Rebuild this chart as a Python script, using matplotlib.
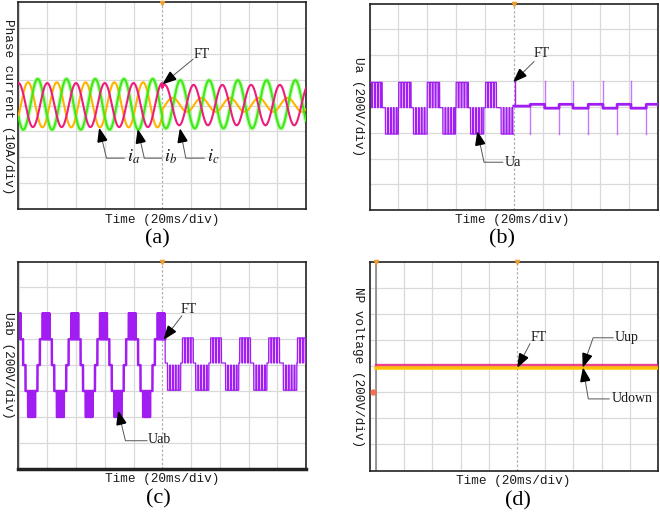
import numpy as np
import matplotlib
matplotlib.use('Agg')
import matplotlib.pyplot as plt
from matplotlib.patches import Polygon

plt.rcParams['mathtext.fontset'] = 'stix'

# ---------------- data (units: oscilloscope divisions) ----------------
FAULT_T = 5.0          # fault instant (FT), division 5 of 10
PERIOD = 1.0           # 20 ms per division -> 50 Hz -> 1 division per period

# (a) phase currents ia (yellow), ib (green), ic (pink)
cur_names = ['ia', 'ib', 'ic']
cur_amp_pre = [0.87, 0.98, 0.85]
cur_peak_pre = [0.333, 0.667, 0.0]
cur_amp_post = [0.27, 0.93, 0.78]
cur_peak_post = [0.36, 0.63, 0.09]
cur_offset = [0.03, 0.05, 0.02]

# (b) phase voltage Ua
ua_high_start = [0.00, 1.01, 2.00, 3.00, 4.02]
ua_high_end = [0.44, 1.44, 2.43, 3.42, 4.42]
ua_low_start = [0.55, 1.52, 2.54, 3.50, 4.56]
ua_low_end = [1.00, 2.00, 2.98, 3.96, 5.00]
ua_levels = [0.95, -0.03, -1.05]          # high, zero, low
ua_post_edges = [5.0, 5.57, 6.07, 6.57, 7.05, 7.58, 8.09, 8.58, 9.06, 9.59, 10.0]
ua_post_levels = [0.03, 0.10, -0.05, 0.10, -0.05, 0.10, -0.05, 0.10, -0.05, 0.10]
ua_spike_up = [5.05, 6.07, 7.05, 8.09, 9.06]
ua_spike_down = [5.57, 6.57, 7.58, 8.58, 9.59]
ua_spike_levels = [1.0, -1.05]

# (c) line voltage Uab
uab_stair_levels = [2, 1, 0, -1, -2, -1, 0, 1]
uab_stair_widths = [0.25, 0.083, 0.084, 0.083, 0.25, 0.083, 0.084, 0.083]
uab_stair_start = -0.175
uab_trace_start = 0.05
uab_switch_t = 5.1
uab_post_dn_start = [5.18, 6.16, 7.20, 8.18, 9.21]
uab_post_dn_end = [5.64, 6.62, 7.66, 8.64, 9.68]
uab_post_up_start = [5.70, 6.68, 7.69, 8.70, 9.70]
uab_post_up_end = [6.10, 7.08, 8.09, 9.10, 10.0]
uab_post_levels = [1.05, 0.08, -0.97]      # up top, base, down bottom

# (d) neutral-point voltages
np_names = ['Uup', 'Udown']
np_levels = [0.04, -0.08]
np_start = 0.0

# ---------------- style ----------------
W, H = 660, 518
PURPLE = '#A21DF2'
FILL = '#C478F5'
PINK = '#EE1C7C'
GREEN = '#3FEA14'
YELLOW = '#FFB400'
cur_colors = [YELLOW, GREEN, PINK]
MONO = 'Liberation Mono'
SERIF = 'Liberation Serif'
TXT = '#1A1A1A'
FC, DUTY, FILL_A, PWM_LW = 10, 0.78, 0.42, 0.9

fig = plt.figure(figsize=(W / 100, H / 100), dpi=100)
fig.patch.set_facecolor('white')


def add_ax(l, t, r, b, x0):
    ax = fig.add_axes([l / W, 1 - b / H, (r - l) / W, (b - t) / H])
    ax.set_xlim(x0, 10)
    ax.set_ylim(-4, 4)
    ax.set_xticks([])
    ax.set_yticks([])
    for s in ax.spines.values():
        s.set_color('#222222')
        s.set_linewidth(1.2)
    for gx in range(0, 11):
        if gx == 5:
            ax.axvline(gx, color='#B0B0B0', lw=0.9, ls=(0, (2, 1.5)), zorder=0)
        else:
            ax.axvline(gx, color='#D9D9D9', lw=0.9, zorder=0)
    for gy in range(-3, 4):
        ax.axhline(gy, color='#D9D9D9', lw=0.9, zorder=0)
    ax.plot([FAULT_T], [3.97], marker='v', ms=3, color='#F0A030', clip_on=False, zorder=5)
    return ax


def ftext(px, py, s, **kw):
    fig.text(px / W, 1 - py / H, s, ha='center', va='center', **kw)


def arrow(ax, pts, color_line='#555555'):
    xs = [p[0] for p in pts]
    ys = [p[1] for p in pts]
    ax.plot(xs, ys, color=color_line, lw=0.7, clip_on=False, zorder=9)
    tr = ax.transData
    tx, ty = tr.transform(pts[-1])
    bx, by = tr.transform(pts[-2])
    dx, dy = bx - tx, by - ty
    n = np.hypot(dx, dy)
    ux, uy = dx / n, dy / n
    px, py = -uy, ux
    L, hw = 12.0, 4.5
    cx, cy = tx + ux * L, ty + uy * L
    tri = [(tx, ty), (cx + px * hw, cy + py * hw), (cx - px * hw, cy - py * hw)]
    ax.add_patch(Polygon(tr.inverted().transform(tri), closed=True, color='black',
                         clip_on=False, zorder=10))


def pwm(t, t0, t1, level, base, fc, duty):
    inside = (t >= t0) & (t < t1)
    carrier = ((t - t0) * fc) % 1.0
    return inside, np.where(carrier < duty, level, base)


t = np.linspace(0, 10, 20001)

# ---------------- (a) ----------------
axa = add_ax(17.5, 2, 306, 209.2, -0.035)
pre = t < FAULT_T
for i in [0, 1, 2]:
    y = np.where(pre,
                 cur_amp_pre[i] * np.cos(2 * np.pi * (t - cur_peak_pre[i]) / PERIOD),
                 cur_amp_post[i] * np.cos(2 * np.pi * (t - cur_peak_post[i]) / PERIOD)) + cur_offset[i]
    if cur_names[i] == 'ib':
        axa.plot(t, y, color='#9CF58A', lw=3.2, alpha=0.6, zorder=2)
    axa.plot(t, y, color=cur_colors[i], lw=1.5, zorder=3)

arrow(axa, [(6.07, 1.79), (5.05, 0.86)])
axa.text(6.38, 1.99, 'FT', family=SERIF, fontsize=10, color=TXT, ha='center', va='center')
for lab, pts in [('$i_a$', [(3.68, -2.03), (3.06, -2.03), (2.82, -0.92)]),
                 ('$i_b$', [(4.99, -2.03), (4.375, -2.03), (4.16, -0.97)]),
                 ('$i_c$', [(6.46, -2.03), (5.82, -2.03), (5.625, -0.94)])]:
    arrow(axa, pts)
    axa.text(pts[0][0] + 0.08, -1.98, lab, fontsize=13, color='#111111', ha='left', va='center')

ftext(8.3, 107, 'Phase current (10A/div)', rotation=-90, family=MONO, fontsize=9.2, color=TXT)
ftext(162, 220, 'Time (20ms/div)', family=MONO, fontsize=9.2, color=TXT)
ftext(157.5, 239, '(a)', family=SERIF, fontsize=16, color='black')

# ---------------- (b) ----------------
axb = add_ax(369.5, 3.5, 658, 210.3, 0.0)
yb = np.full_like(t, ua_levels[1])
for s0, s1 in zip(ua_high_start, ua_high_end):
    m, v = pwm(t, s0, s1, ua_levels[0], ua_levels[1], FC, DUTY)
    yb[m] = v[m]
    axb.fill_between([s0, s1], ua_levels[1], ua_levels[0], color=FILL, alpha=FILL_A, lw=0, zorder=2)
for s0, s1 in zip(ua_low_start, ua_low_end):
    m, v = pwm(t, s0, s1, ua_levels[2], ua_levels[1], FC, DUTY)
    yb[m] = v[m]
    axb.fill_between([s0, s1], ua_levels[1], ua_levels[2], color=FILL, alpha=FILL_A, lw=0, zorder=2)
post = t >= FAULT_T
idx = np.clip(np.searchsorted(ua_post_edges, t, side='right') - 1, 0, len(ua_post_levels) - 1)
yb[post] = np.array(ua_post_levels)[idx[post]]
axb.plot(t[~post], yb[~post], color=PURPLE, lw=PWM_LW, zorder=3)
axb.plot(t[post], yb[post], color=PURPLE, lw=2.0, zorder=3)
for k, sx in enumerate(ua_spike_up):
    axb.plot([sx, sx], [0.05, ua_spike_levels[0]], color=PURPLE, lw=1.0,
             alpha=1.0 if k == 0 else 0.6, zorder=3)
for sx in ua_spike_down:
    axb.plot([sx, sx], [0.0, ua_spike_levels[1]], color=PURPLE, lw=1.0, alpha=0.6, zorder=3)

arrow(axb, [(5.70, 1.75), (5.02, 1.0)])
axb.text(5.97, 2.05, 'FT', family=SERIF, fontsize=10, color=TXT, ha='center', va='center')
arrow(axb, [(4.62, -2.14), (3.97, -2.14), (3.75, -1.0)])
axb.text(4.70, -2.14, 'Ua', family=SERIF, fontsize=10, color=TXT, ha='left', va='center')

ftext(358.3, 107, 'Ua (200V/div)', rotation=-90, family=MONO, fontsize=9.2, color=TXT)
ftext(512.5, 220, 'Time (20ms/div)', family=MONO, fontsize=9.2, color=TXT)
ftext(502, 239, '(b)', family=SERIF, fontsize=16, color='black')

# ---------------- (c) ----------------
axc = add_ax(17.5, 261.5, 306, 468.7, -0.035)
axc.spines['bottom'].set_linewidth(2.5)
edges = np.concatenate([[0.0], np.cumsum(uab_stair_widths)])
ph = (t - uab_stair_start) % PERIOD
si = np.clip(np.searchsorted(edges, ph, side='right') - 1, 0, len(uab_stair_levels) - 1)
stair = np.array(uab_stair_levels, dtype=float)[si]
carrier = (t * 30) % 1.0
yc = stair.copy()
big = np.abs(stair) == 2
yc[big] = np.where(carrier[big] < 0.7, stair[big], np.sign(stair[big]) * 1.0)
pre_c = (t >= uab_trace_start) & (t < uab_switch_t)
axc.plot(t[pre_c], yc[pre_c], color=PURPLE, lw=1.8, zorder=3)
axc.fill_between(t[pre_c], np.sign(stair[pre_c]), stair[pre_c], where=big[pre_c],
                 color=PURPLE, alpha=0.85, lw=0, zorder=2)

ycp = np.full_like(t, uab_post_levels[1])
for s0, s1 in zip(uab_post_dn_start, uab_post_dn_end):
    m, v = pwm(t, s0, s1, uab_post_levels[2], 0.0, FC, DUTY)
    ycp[m] = v[m]
    axc.fill_between([s0, s1], 0.0, uab_post_levels[2], color=FILL, alpha=FILL_A, lw=0, zorder=2)
for s0, s1 in zip(uab_post_up_start, uab_post_up_end):
    m, v = pwm(t, s0, s1, uab_post_levels[0], uab_post_levels[1], FC, DUTY)
    ycp[m] = v[m]
    axc.fill_between([s0, s1], uab_post_levels[1], uab_post_levels[0], color=FILL, alpha=FILL_A, lw=0, zorder=2)
seg = (t >= uab_switch_t - 0.0005)
yseg = ycp.copy()
yseg[t < uab_switch_t] = 1.0
axc.plot(t[seg], yseg[seg], color=PURPLE, lw=PWM_LW, zorder=3)

arrow(axc, [(5.68, 1.90), (5.08, 1.03)])
axc.text(5.91, 2.16, 'FT', family=SERIF, fontsize=10, color=TXT, ha='center', va='center')
arrow(axc, [(4.47, -2.92), (3.72, -2.92), (3.48, -1.82)])
axc.text(4.51, -2.88, 'Uab', family=SERIF, fontsize=10, color=TXT, ha='left', va='center')

ftext(8.3, 365, 'Uab (200V/div)', rotation=-90, family=MONO, fontsize=9.2, color=TXT)
ftext(162, 479, 'Time (20ms/div)', family=MONO, fontsize=9.2, color=TXT)
ftext(158, 499, '(c)', family=SERIF, fontsize=16, color='black')

# ---------------- (d) ----------------
axd = add_ax(370, 261.5, 658, 470.5, -0.21)
axd.axvline(0, color='#888888', lw=1.2, zorder=1)
axd.plot([0.0], [3.97], marker='v', ms=3, color='#F0A030', clip_on=False, zorder=5)
axd.plot([-0.1], [-1.0], marker='o', ms=3.5, color='#F07050', zorder=5)
td = t[t >= np_start]
axd.plot(td, np.full_like(td, np_levels[1]), color='#FFC400', lw=2.4, zorder=3)
axd.plot(td, np.full_like(td, np_levels[0]), color=PINK, lw=1.6, alpha=0.85, zorder=4)
axd.plot(td, np.full_like(td, (np_levels[0] + np_levels[1]) / 2), color='#FF9A20', lw=1.0, alpha=0.7, zorder=4)

arrow(axd, [(5.46, 0.85), (5.04, -0.01)])
axd.text(5.76, 1.11, 'FT', family=SERIF, fontsize=10, color=TXT, ha='center', va='center')
arrow(axd, [(8.41, 1.08), (7.70, 1.08), (7.35, 0.0)])
axd.text(8.48, 1.11, 'Uup', family=SERIF, fontsize=10, color=TXT, ha='left', va='center')
arrow(axd, [(8.27, -1.26), (7.53, -1.26), (7.35, -0.12)])
axd.text(8.36, -1.26, 'Udown', family=SERIF, fontsize=10, color=TXT, ha='left', va='center')

ftext(358, 367, 'NP voltage (200V/div)', rotation=-90, family=MONO, fontsize=9.2, color=TXT)
ftext(513, 480.7, 'Time (20ms/div)', family=MONO, fontsize=9.2, color=TXT)
ftext(518, 501, '(d)', family=SERIF, fontsize=16, color='black')

fig.savefig('out.png', dpi=100, facecolor='white')
